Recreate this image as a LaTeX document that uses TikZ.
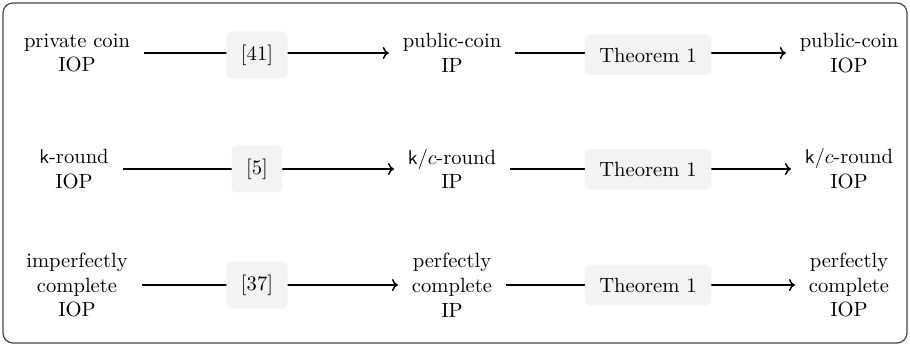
\documentclass[tikz,border=0pt]{standalone}
\usetikzlibrary{arrows.meta}
\definecolor{boxgray}{HTML}{F3F3F3}
\definecolor{framegray}{HTML}{444444}
\begin{document}
\begin{tikzpicture}[x=0.5pt,y=-0.5pt,
  every node/.style={font=\fontsize{10.3}{12.4}\selectfont},
  term/.style={align=center, inner sep=0pt, outer sep=7pt},
  lab/.style={fill=boxgray, rounded corners=2.5pt, inner xsep=7.3pt, inner ysep=6.6pt},
  conn/.style={line width=0.75pt, -{To[length=3pt,width=6pt]}}]
\useasboundingbox (0,0) rectangle (910,347);
\draw[framegray, line width=0.6pt, rounded corners=5pt] (3,3) rectangle (907,343);
% row 1
\node[term] (a1) at (77,53) {private coin\\IOP};
\node[term] (b1) at (452,53) {public-coin\\IP};
\node[term] (c1) at (849,53) {public-coin\\IOP};
\draw[conn] (a1) -- (b1);
\draw[conn] (b1) -- (c1);
\node[lab] (l1) at (257,55) {[41]};
\node[lab] (m1) at (648,55) {Theorem 1};
% row 2
\node[term] (a2) at (74,169) {$\mathsf{k}$-round\\IOP};
\node[term] (b2) at (452,169) {$\mathsf{k}/c$-round\\IP};
\node[term] (c2) at (849,169) {$\mathsf{k}/c$-round\\IOP};
\draw[conn] (a2) -- (b2);
\draw[conn] (b2) -- (c2);
\node[lab] (l2) at (257,169) {[5]};
\node[lab] (m2) at (648,169) {Theorem 1};
% row 3
\node[term] (a3) at (77,285) {imperfectly\\complete\\IOP};
\node[term] (b3) at (452,285) {perfectly\\complete\\IP};
\node[term] (c3) at (849,285) {perfectly\\complete\\IOP};
\draw[conn] (a3) -- (b3);
\draw[conn] (b3) -- (c3);
\node[lab] (l3) at (257,285) {[37]};
\node[lab] (m3) at (648,285) {Theorem 1};
\end{tikzpicture}
\end{document}
